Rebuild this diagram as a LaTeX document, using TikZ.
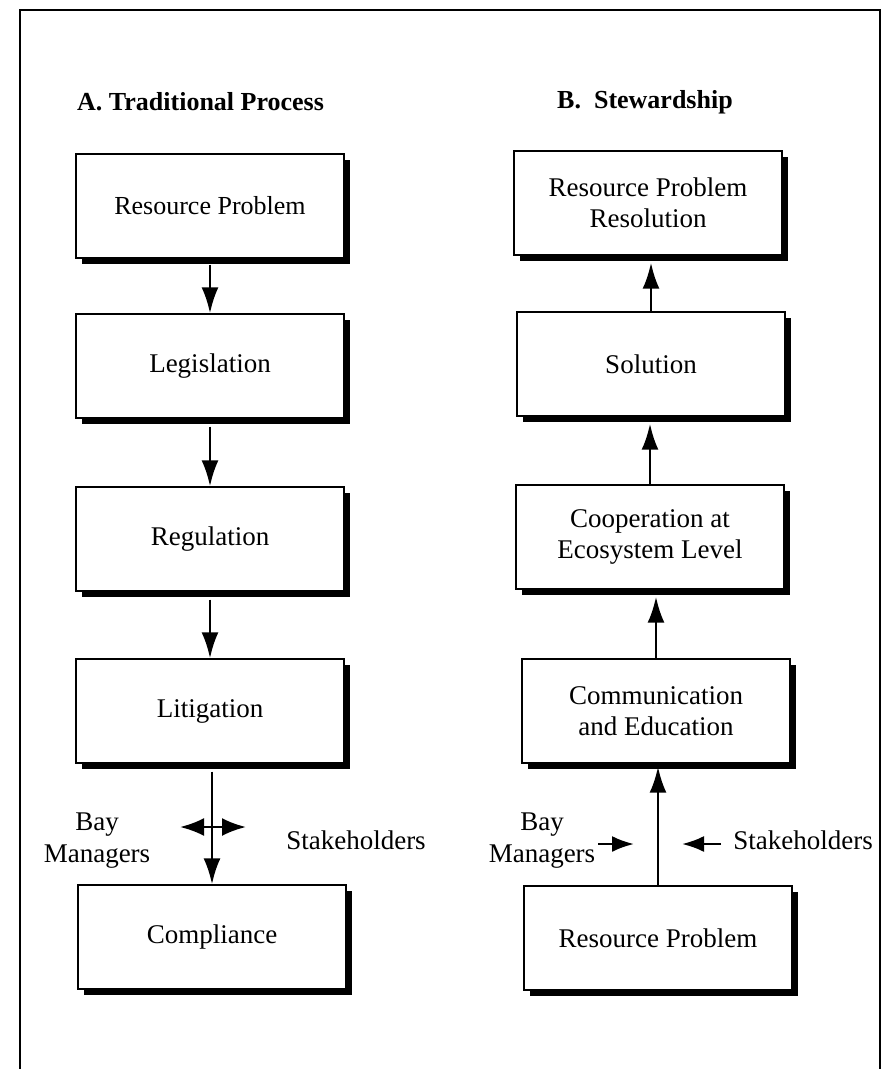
\documentclass[tikz,border=0pt]{standalone}
\usepackage{fontspec}
\setmainfont{Liberation Serif}
\usepackage{tikz}
\usetikzlibrary{shapes.geometric}
\usetikzlibrary{calc}
\usetikzlibrary{arrows.meta}
\usetikzlibrary{shadows}
\tikzset{>=latex}
\tikzstyle{proc} = [rectangle, minimum width=268pt, minimum height=104pt, text centered, align=center, draw=black, line width=1.4pt, fill=white, font=\fontsize{27}{31}\selectfont, drop shadow={shadow xshift=6pt, shadow yshift=-6pt, fill=black, opacity=1}]
\tikzstyle{heading} = [anchor=west, inner sep=0pt, font=\bfseries\fontsize{26}{30}\selectfont]
\tikzstyle{side} = [align=center, inner sep=0pt, font=\fontsize{27}{32}\selectfont]
\tikzstyle{arrow} = [line width=2.5pt, -{Latex[length=26pt,width=17pt]}]

\begin{document}
\begin{tikzpicture}[x=1pt, y=-1pt]
    \useasboundingbox (0,0) rectangle (883,1069);
    % frame
    \draw[line width=1.5pt] (20,1069) -- (20,10) -- (880,10) -- (880,1069);

    \node[heading] (headA) at (77,102) {A. Traditional Process};
    \node[heading] (headB) at (557,102) {B.\ \ Stewardship};

    % A. traditional process
    \node[proc, font=\fontsize{26}{30}\selectfont] (resA) at (210,206) {Resource Problem};
    \node[proc] (legis) at (210,366) {Legislation};
    \node[proc] (regul) at (210,539) {Regulation};
    \node[proc] (litig) at (210,711) {Litigation};
    \node[proc] (compl) at (212,937) {Compliance};

    \draw[arrow, shorten <=6pt] (resA) -- (legis);
    \draw[arrow, shorten <=8pt] (legis) -- (regul);
    \draw[arrow, shorten <=8pt] (regul) -- (litig);
    \draw[arrow, shorten <=8pt] (litig.south -| compl.north) -- (compl.north);

    \node[side] (bayA) at (97,841) {Bay\\Managers};
    \node[side] (stakeA) at (356,840) {Stakeholders};
    \coordinate (crossL) at (180,827);
    \coordinate (crossR) at (246,827);
    \draw[line width=2.5pt, {Latex[length=24pt,width=18pt]}-{Latex[length=24pt,width=18pt]}] (crossL) -- (crossR);

    % B. stewardship
    \node[proc] (resB) at (658,938) {Resource Problem};
    \node[proc] (commu) at (656,711) {Communication\\and Education};
    \node[proc] (coop) at (650,537) {Cooperation at\\Ecosystem Level};
    \node[proc] (solut) at (651,364) {Solution};
    \node[proc] (resol) at (648,203) {Resource Problem\\Resolution};

    \draw[arrow, shorten >=3pt] (resB.north) -- (resB.north |- commu.south);
    \draw[arrow, shorten >=7pt] (commu.north) -- (commu.north |- coop.south);
    \draw[arrow, shorten >=7pt] (coop.north) -- (coop.north |- solut.south);
    \draw[arrow, shorten >=7pt] (solut.north) -- (solut.north |- resol.south);

    \node[side] (bayB) at (542,841) {Bay\\Managers};
    \node[side] (stakeB) at (803,840) {Stakeholders};
    \coordinate (bayT) at (598,844);
    \coordinate (bayH) at (634,844);
    \coordinate (stakeT) at (721,844);
    \coordinate (stakeH) at (682,844);
    \draw[line width=2.5pt, -{Latex[length=22pt,width=16pt]}] (bayT) -- (bayH);
    \draw[line width=2.5pt, -{Latex[length=22pt,width=16pt]}] (stakeT) -- (stakeH);
\end{tikzpicture}
\end{document}
